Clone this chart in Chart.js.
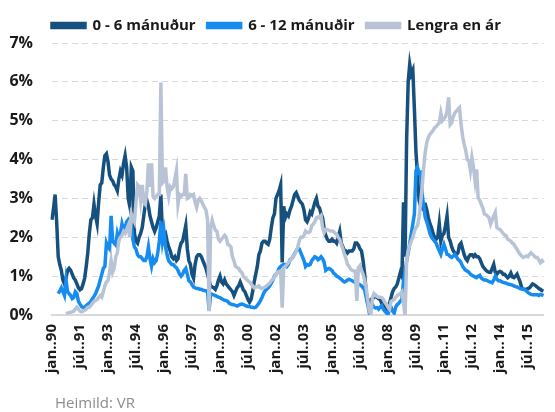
<!DOCTYPE html>
<html>
<head>
<meta charset="utf-8">
<script src="https://cdn.jsdelivr.net/npm/chart.js@4.4.1/dist/chart.umd.min.js"></script>
<style>
	html, body { margin: 0; padding: 0; background: #fff; }
</style>
</head>
<body>
<canvas id="chart" width="555" height="412"></canvas>
<script>
const months = ['jan', 'feb', 'mar', 'apr', 'maí', 'jún', 'júl', 'ágú', 'sep', 'okt', 'nóv', 'des'];
const firstYear = 1990;
const seriesNames = ['0 - 6 mánuður', '6 - 12 mánuðir', 'Lengra en ár'];
const sourceText = 'Heimild: VR';

// monthly values, jan 1990 - maí 2016 (%)
const shortTerm = [
	2.45, 2.75, 3.1, 2.4, 1.5, 1.3, 1.15, 0.9, 0.8, 0.95, 1.15, 1.2,
	1.15, 1.05, 0.95, 0.9, 0.8, 0.7, 0.65, 0.68, 0.8, 0.95, 1.25, 1.6,
	2.1, 2.45, 2.5, 2.85, 2.55, 2.35, 2.9, 3.35, 3.4, 3.8, 4.1, 4.15,
	3.95, 3.6, 3.5, 3.45, 3.35, 3.3, 3.2, 3.5, 3.7, 3.6, 3.9, 4.1,
	3.8, 3.0, 2.8, 3.8, 3.7, 2.1, 1.9, 1.85, 2.0, 2.1, 2.25, 2.55,
	2.85, 2.95, 2.8, 2.55, 2.4, 2.25, 2.15, 2.25, 2.4, 2.55, 3.1, 2.1,
	2.05, 2.1, 1.9, 1.75, 1.65, 1.5, 1.45, 1.5, 1.4, 1.45, 1.7, 1.85,
	1.9, 2.1, 2.3, 1.7, 1.4, 1.3, 1.05, 0.95, 1.3, 1.5, 1.55, 1.55,
	1.5, 1.4, 1.3, 1.2, 1.05, 0.9, 0.75, 0.72, 0.7, 0.66, 0.75, 0.9,
	1.0, 0.85, 0.8, 0.9, 0.8, 0.75, 0.7, 0.65, 0.6, 0.5, 0.6, 0.7,
	0.75, 0.85, 0.75, 0.65, 0.6, 0.5, 0.4, 0.33, 0.4, 0.6, 0.85, 1.05,
	1.25, 1.55, 1.65, 1.85, 1.9, 1.9, 1.85, 1.82, 1.95, 2.25, 2.5, 2.6,
	3.0, 3.1, 3.2, 3.35, 1.35, 2.8, 2.5, 2.6, 2.55, 2.7, 2.8, 2.95,
	3.1, 3.15, 3.05, 2.95, 2.9, 2.85, 2.7, 2.45, 2.4, 2.5, 2.65, 2.6,
	2.75, 2.9, 3.0, 2.8, 2.75, 2.6, 2.5, 2.2, 2.05, 1.95, 1.9, 1.9,
	1.95, 1.9, 1.9, 1.85, 2.0, 2.15, 1.85, 1.75, 1.65, 1.65, 1.6, 1.65,
	1.65, 1.65, 1.7, 1.85, 1.85, 1.8, 1.7, 1.65, 1.4, 1.05, 0.6, 0.3,
	0.3, 0.4, 0.42, 0.45, 0.5, 0.45, 0.42, 0.4, 0.3, 0.25, 0.2, 0.15,
	0.15, 0.3, 0.45, 0.6, 0.68, 0.72, 0.8, 0.95, 1.1, 1.0, 2.9, 1.5,
	4.5, 6.0, 6.45, 6.2, 6.3, 5.3, 4.2, 3.6, 2.95, 2.8, 2.75, 2.85,
	2.85, 2.7, 2.5, 2.35, 2.25, 2.1, 2.0, 1.95, 2.0, 2.35, 1.9, 2.05,
	2.1, 2.3, 2.55, 2.0, 1.9, 1.75, 1.65, 1.6, 1.55, 1.6, 1.8, 1.85,
	1.7, 1.55, 1.45, 1.4, 1.5, 1.55, 1.55, 1.5, 1.55, 1.5, 1.5, 1.45,
	1.35, 1.25, 1.2, 1.15, 1.12, 1.1, 1.1, 1.2, 1.3, 1.1, 1.05, 1.1,
	1.12, 1.1, 1.05, 1.05, 1.0, 0.96, 1.0, 1.08, 0.98, 0.96, 1.0, 1.05,
	0.95, 0.85, 0.7, 0.66, 0.66, 0.65, 0.68, 0.7, 0.75, 0.8, 0.78, 0.75,
	0.72, 0.68, 0.66, 0.63, 0.62
];

const midTerm = [
	null, null, null, null, 0.55, 0.62, 0.7, 0.6, 0.5, 0.9, 0.6, 0.55,
	0.5, 0.42, 0.45, 0.6, 0.55, 0.35, 0.28, 0.22, 0.19, 0.2, 0.24, 0.28,
	0.3, 0.35, 0.42, 0.48, 0.55, 0.65, 0.75, 0.9, 1.05, 1.2, 1.25, 1.85,
	1.75, 1.7, 2.55, 1.9, 1.85, 1.8, 2.1, 1.95, 2.1, 2.35, 2.2, 2.25,
	2.4, 2.45, 2.35, 2.3, 1.95, 1.75, 1.7, 1.55, 1.5, 1.5, 1.45, 1.4,
	1.4, 1.5, 1.75, 1.45, 1.25, 1.45, 1.35, 1.4, 1.6, 1.9, 2.4, 1.9,
	2.15, 1.75, 1.55, 1.4, 1.35, 1.3, 1.3, 1.25, 1.22, 1.15, 1.05, 1.0,
	1.05, 1.15, 1.2, 1.05, 0.88, 0.85, 0.78, 0.72, 0.7, 0.68, 0.68, 0.66,
	0.66, 0.64, 0.63, 0.62, 0.62, 0.12, 0.55, 0.53, 0.52, 0.5, 0.48, 0.46,
	0.45, 0.42, 0.4, 0.38, 0.37, 0.35, 0.3, 0.28, 0.27, 0.26, 0.25, 0.23,
	0.25, 0.27, 0.28, 0.27, 0.25, 0.23, 0.22, 0.22, 0.2, 0.2, 0.19, 0.2,
	0.25, 0.3, 0.37, 0.45, 0.55, 0.62, 0.66, 0.7, 0.75, 0.82, 0.9, 1.0,
	1.05, 1.1, 1.2, 1.25, 1.28, 1.3, 1.3, 1.25, 1.3, 1.42, 1.45, 1.5,
	1.58, 1.65, 1.72, 1.7, 1.6, 1.5, 1.4, 1.25, 1.3, 1.28, 1.3, 1.4,
	1.45, 1.5, 1.48, 1.42, 1.45, 1.5, 1.45, 1.35, 1.15, 1.18, 1.2, 1.18,
	1.15, 1.08, 1.05, 1.0, 0.98, 0.95, 0.92, 0.88, 0.85, 0.87, 0.9, 0.92,
	0.9, 0.88, 0.86, 0.84, 0.8, 0.8, 0.78, 0.75, 0.7, 0.65, 0.45, 0.27,
	0.06, 0.2, 0.27, 0.2, 0.18, 0.19, 0.15, 0.2, 0.24, 0.15, 0.1, 0.05,
	0.02, 0.15, 0.2, 0.1, 0.05, 0.2, 0.27, 0.3, 0.36, 0.4, 0.88, 1.1,
	1.39, 1.6, 1.84, 2.1, 2.35, 2.6, 3.71, 3.8, 3.65, 3.67, 3.1, 2.8,
	2.5, 2.4, 2.25, 2.1, 2.0, 1.95, 1.9, 1.85, 1.74, 1.65, 1.56, 1.7,
	1.82, 1.7, 1.56, 1.55, 1.5, 1.48, 1.52, 1.56, 1.5, 1.43, 1.4, 1.35,
	1.25, 1.2, 1.15, 1.13, 1.1, 1.05, 1.02, 1.0, 0.98, 0.96, 1.0, 1.02,
	0.95, 0.92, 0.9, 0.9, 0.88, 0.86, 0.85, 0.83, 0.9, 1.0, 0.92, 0.88,
	0.88, 0.86, 0.84, 0.83, 0.82, 0.8, 0.79, 0.78, 0.77, 0.75, 0.73, 0.72,
	0.7, 0.68, 0.67, 0.66, 0.65, 0.62, 0.58, 0.55, 0.53, 0.52, 0.52, 0.52,
	0.52, 0.5, 0.53, 0.52, 0.5
];

const longTerm = [
	null, null, null, null, null, null, null, null, null, 0.03, 0.05, 0.06,
	0.07, 0.08, 0.1, 0.15, 0.2, 0.15, 0.1, 0.08, 0.1, 0.12, 0.15, 0.2,
	0.2, 0.25, 0.3, 0.35, 0.37, 0.4, 0.45, 0.5, 0.46, 0.6, 0.75, 0.85,
	0.89, 1.1, 1.4, 1.1, 1.2, 1.5, 1.6, 1.92, 2.0, 2.05, 2.15, 2.1,
	2.2, 2.3, 2.0, 2.6, 2.5, 2.4, 2.9, 3.35, 3.3, 2.95, 3.35, 2.9,
	2.85, 3.2, 3.9, 3.3, 3.9, 3.05, 3.0, 3.05, 3.1, 3.1, 5.98, 3.4,
	3.45, 3.8, 3.28, 3.05, 3.3, 3.25, 3.3, 3.5, 3.72, 2.85, 3.1, 3.05,
	3.1, 3.1, 3.63, 3.0, 3.02, 3.1, 3.07, 3.1, 2.9, 2.77, 2.95, 3.0,
	2.94, 2.85, 2.77, 2.7, 2.45, 0.1, 2.25, 2.44, 2.3, 2.18, 2.16, 1.95,
	1.9, 1.95, 2.0, 2.05, 2.0, 1.82, 1.8, 1.75, 1.5, 1.39, 1.25, 1.22,
	1.2, 1.13, 1.1, 1.0, 0.96, 0.92, 0.88, 0.85, 0.8, 0.75, 0.7, 0.72,
	0.72, 0.75, 0.7, 0.68, 0.7, 0.72, 0.75, 0.79, 0.82, 0.88, 0.92, 0.98,
	1.05, 1.1, 1.12, 1.13, 0.19, 1.22, 1.25, 1.3, 1.35, 1.4, 1.45, 1.5,
	1.56, 1.65, 1.74, 1.92, 2.0, 2.0, 2.05, 2.16, 2.12, 2.12, 2.15, 2.3,
	2.34, 2.4, 2.5, 2.52, 2.5, 2.55, 2.25, 2.12, 2.2, 2.2, 2.18, 2.16,
	2.16, 2.15, 2.1, 2.08, 2.0, 1.95, 1.82, 1.7, 1.56, 1.45, 1.3, 1.25,
	1.18, 1.15, 1.13, 1.13, 0.36, 1.22, 1.27, 1.15, 1.05, 0.9, 0.7, 0.4,
	0.1, 0.0, 0.45, 0.55, 0.5, 0.48, 0.46, 0.46, 0.45, 0.4, 0.33, 0.28,
	0.2, 0.15, 0.35, 0.37, 0.4, 0.46, 0.5, 0.53, 0.55, 0.6, 0.3, 0.0,
	1.4, 1.65, 1.8, 1.9, 2.0, 2.15, 2.25, 2.3, 2.5, 2.9, 3.3, 3.8,
	4.2, 4.45, 4.57, 4.65, 4.7, 4.75, 4.82, 4.85, 4.9, 4.95, 5.2, 5.0,
	5.05, 5.1, 5.25, 5.6, 4.9, 4.95, 5.1, 5.2, 5.25, 5.3, 5.34, 4.9,
	4.6, 4.4, 4.23, 4.0, 3.97, 3.72, 4.05, 3.8, 3.45, 3.75, 3.02, 2.95,
	2.85, 2.75, 2.6, 2.58, 2.55, 2.5, 2.34, 2.45, 2.55, 2.64, 2.25, 2.22,
	2.2, 2.15, 2.1, 2.06, 2.04, 1.95, 1.93, 1.9, 1.85, 1.82, 1.75, 1.69,
	1.62, 1.56, 1.52, 1.48, 1.5, 1.52, 1.5, 1.56, 1.6, 1.56, 1.52, 1.48,
	1.48, 1.42, 1.35, 1.4, 1.35
];

const labels = shortTerm.map((_, i) => {
	const year = firstYear + Math.floor(i / 12);
	return `${months[i % 12]}..${String(year).slice(2)}`;
});

const FONT = '"Open Sans", "Noto Sans", sans-serif';

const sourcePlugin = {
	id: 'source',
	afterDraw (chart) {
		const ctx = chart.ctx;
		ctx.save();
		ctx.font = `15px ${FONT}`;
		ctx.fillStyle = '#8c8c8c';
		ctx.textBaseline = 'middle';
		ctx.fillText(sourceText, 55, 404);
		ctx.restore();
	}
};

function lineSet (label, data, color, order) {
	return {
		label,
		data,
		borderColor: color,
		backgroundColor: color,
		borderWidth: 3.5,
		pointRadius: 0,
		tension: 0,
		fill: false,
		order
	};
}

new Chart(document.getElementById('chart'), {
	type: 'line',
	data: {
		labels,
		datasets: [
			lineSet(seriesNames[0], shortTerm, '#16507f', 2),
			lineSet(seriesNames[1], midTerm, '#168cf0', 1),
			lineSet(seriesNames[2], longTerm, '#b8c4d6', 0)
		]
	},
	plugins: [sourcePlugin],
	options: {
		responsive: false,
		animation: false,
		devicePixelRatio: 1,
		layout: { padding: { top: 6, left: 0, right: 2, bottom: 24 } },
		plugins: {
			tooltip: { enabled: false },
			legend: {
				reverse: true,
				labels: {
					boxWidth: 33,
					boxHeight: 4,
					padding: 12,
					color: '#1a1a1a',
					font: { family: FONT, size: 15, weight: 'bold' }
				}
			}
		},
		scales: {
			x: {
				grid: { display: false, drawTicks: false },
				border: { display: true, color: '#d9d9d9', width: 2 },
				ticks: {
					autoSkip: false,
					maxRotation: 90,
					minRotation: 90,
					padding: 9,
					color: '#1a1a1a',
					font: { family: FONT, size: 15, weight: 'bold' },
					callback: (val, i) => (i % 18 === 0 ? labels[i] : null)
				},
				afterFit: scale => { scale.height = 73; }
			},
			y: {
				min: 0,
				max: 7,
				grid: {
					drawTicks: false,
					color: ctx => (ctx.tick && ctx.tick.value === 0 ? 'rgba(0,0,0,0)' : '#d9d9d9'),
					lineWidth: 1
				},
				border: { display: false, dash: [6, 4] },
				ticks: {
					stepSize: 1,
					padding: 19,
					color: '#1a1a1a',
					font: { family: FONT, size: 16, weight: 'bold' },
					callback: v => `${v}%`
				},
				afterFit: scale => { scale.width = 52; }
			}
		}
	}
});
</script>
</body>
</html>
